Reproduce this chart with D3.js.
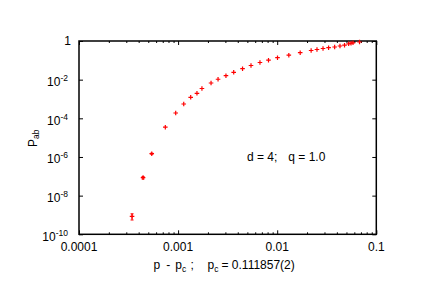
<!DOCTYPE html>
<html>
<head>
<meta charset="utf-8">
<script src="https://cdn.jsdelivr.net/npm/d3@7"></script>
<style>
  html, body { margin: 0; padding: 0; background: #fff; }
  svg { display: block; }
  text { font-family: "Liberation Sans", Arial, Helvetica, sans-serif; fill: #000; }
</style>
</head>
<body>
<svg id="chart" width="436" height="308"></svg>
<script>
// ---- data ----
const pDiff = [3.43e-4, 4.43e-4, 5.42e-4, 7.43e-4, 9.46e-4, 1.14e-3, 1.34e-3, 1.55e-3, 1.74e-3,
  2.15e-3, 2.53e-3, 3.04e-3, 3.64e-3, 4.47e-3, 5.44e-3, 6.70e-3, 8.17e-3, 0.01007, 0.0131,
  0.01706, 0.0220, 0.0252, 0.0290, 0.0330, 0.0380, 0.0430, 0.0478, 0.0526, 0.0556, 0.0582, 0.0677];
const pab = [8.5e-10, 8.5e-8, 1.48e-6, 3.47e-5, 1.88e-4, 5.5e-4, 1.22e-3, 1.97e-3, 3.49e-3,
  6.7e-3, 0.0105, 0.016, 0.024, 0.0369, 0.054, 0.0773, 0.1016, 0.137, 0.184,
  0.248, 0.323, 0.363, 0.409, 0.45, 0.49, 0.55, 0.607, 0.716, 0.769, 0.807, 0.888];
const pabErr = [3e-10, 1.2e-8, 1e-7, 0, 0, 0, 0, 0, 0,
  0, 0, 0, 0, 0, 0, 0, 0, 0, 0,
  0, 0, 0, 0, 0, 0, 0, 0, 0, 0, 0, 0];
const xMajorTicks = [1e-4, 1e-3, 1e-2, 1e-1];
const xTickLabels = ["0.0001", "0.001", "0.01", "0.1"];
const yMajorTicks = [1, 1e-2, 1e-4, 1e-6, 1e-8, 1e-10];
const yTickExponents = [0, -2, -4, -6, -8, -10];
const annotation = ["d = 4;", "q = 1.0"];

// ---- layout ----
const L = 79, R = 376.3, T = 41, B = 234.3;
const svg = d3.select("#chart");
const x = d3.scaleLog().domain([1e-4, 0.1]).range([L, R]);
const y = d3.scaleLog().domain([1e-10, 1]).range([B, T]);

const xMinor = [];
xMajorTicks.slice(0, -1).forEach(d => { for (let k = 2; k <= 9; k++) xMinor.push(d * k); });

function tickGroup(axisFn, scale, vals, size, transform) {
  const g = svg.append("g").attr("transform", transform)
    .call(axisFn(scale).tickValues(vals).tickSizeInner(size).tickSizeOuter(0).tickFormat(""));
  g.select(".domain").remove();
  g.selectAll(".tick line").attr("stroke", "#000").attr("stroke-width", 1);
  return g;
}
// inward ticks
tickGroup(d3.axisBottom, x, xMajorTicks, -4, `translate(0,${B})`);
tickGroup(d3.axisBottom, x, xMinor, -2, `translate(0,${B})`);
tickGroup(d3.axisTop, x, xMajorTicks, -4, `translate(0,${T})`);
tickGroup(d3.axisTop, x, xMinor, -2, `translate(0,${T})`);
tickGroup(d3.axisLeft, y, yMajorTicks, -4, `translate(${L},0)`);
tickGroup(d3.axisRight, y, yMajorTicks, -4, `translate(${R},0)`);

// frame
svg.append("rect").attr("x", L).attr("y", T).attr("width", R - L).attr("height", B - T)
  .attr("fill", "none").attr("stroke", "#000").attr("stroke-width", 1.5);

// x tick labels
svg.append("g").selectAll("text").data(xMajorTicks).join("text")
  .attr("x", d => x(d)).attr("y", B + 17)
  .attr("text-anchor", "middle").attr("font-size", 12)
  .text((d, i) => xTickLabels[i]);

// y tick labels
yMajorTicks.forEach((v, i) => {
  const e = yTickExponents[i];
  if (e === 0) {
    svg.append("text").attr("x", 71).attr("y", y(v) + 4.3)
      .attr("text-anchor", "end").attr("font-size", 12).text("1");
  } else {
    const t = svg.append("text").attr("x", 68).attr("y", y(v) + 6.3)
      .attr("text-anchor", "end").attr("font-size", 12);
    t.append("tspan").text("10");
    t.append("tspan").attr("dy", -5).attr("font-size", 8.5).text(String(e));
  }
});

// y axis title: P_ab
const yl = svg.append("text").attr("transform", "translate(37,147) rotate(-90)")
  .attr("font-size", 12);
yl.append("tspan").text("P");
yl.append("tspan").attr("dy", 1.5).attr("font-size", 8.5).text("ab");

// x axis title
const xl = svg.append("text").attr("y", 269).attr("font-size", 12);
xl.append("tspan").attr("x", 153.4).text("p");
xl.append("tspan").attr("x", 166.3).text("-");
xl.append("tspan").attr("x", 175.2).text("p");
xl.append("tspan").attr("dy", 3).attr("font-size", 8.5).text("c");
xl.append("tspan").attr("x", 190.6).attr("dy", -3).text(";");
xl.append("tspan").attr("x", 207.6).text("p");
xl.append("tspan").attr("dy", 3).attr("font-size", 8.5).text("c");
xl.append("tspan").attr("x", 221.5).attr("dy", -3).text("= 0.111857(2)");

// annotation
svg.append("text").attr("x", 247).attr("y", 161).attr("font-size", 12).text(annotation[0]);
svg.append("text").attr("x", 288.3).attr("y", 161).attr("font-size", 12).text(annotation[1]);

// data points
const pts = pDiff.map((d, i) => ({ x: d, y: pab[i], e: pabErr[i] }));
const red = "#ff0000";
const gp = svg.append("g");
pts.filter(p => p.e > 0).forEach(p => {
  const cx = x(p.x), y1 = y(p.y + p.e), y2 = y(p.y - p.e);
  gp.append("line").attr("x1", cx).attr("x2", cx).attr("y1", y1).attr("y2", y2)
    .attr("stroke", red).attr("stroke-width", 1);
  [y1, y2].forEach(yy => gp.append("line").attr("x1", cx - 1.5).attr("x2", cx + 1.5)
    .attr("y1", yy).attr("y2", yy).attr("stroke", red).attr("stroke-width", 1));
});
const s = 2.3;
gp.selectAll("path.pt").data(pts).join("path").attr("class", "pt")
  .attr("d", p => { const cx = x(p.x), cy = y(p.y);
    return `M${cx - s},${cy}H${cx + s}M${cx},${cy - s}V${cy + s}`; })
  .attr("stroke", red).attr("stroke-width", 1.2).attr("fill", "none");
</script>
</body>
</html>
